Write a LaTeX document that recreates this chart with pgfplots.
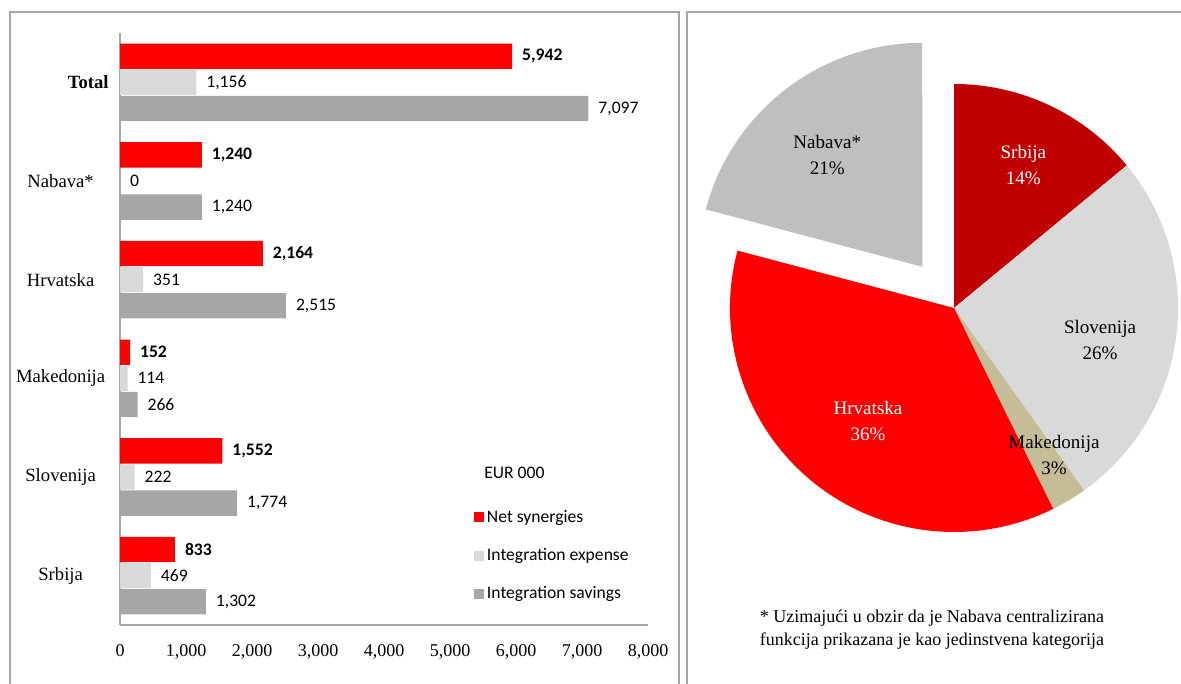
\documentclass[border=0pt]{standalone}
\usepackage{pgfplots}
\pgfplotsset{compat=1.18}
\usepackage{pgfplotstable}
\usepackage{fontspec}
\setmainfont{Liberation Serif}
\newfontfamily\carlito{Carlito}
\definecolor{netred}{HTML}{FF0000}
\definecolor{lgray}{HTML}{D9D9D9}
\definecolor{dgray}{HTML}{A6A6A6}
\definecolor{srb}{HTML}{C00000}
\definecolor{mak}{HTML}{C4BD97}
\definecolor{nab}{HTML}{BFBFBF}
\definecolor{frame}{HTML}{A6A6A6}

% y: 5 = Total (top) ... 0 = Srbija (bottom)
\pgfplotstableread{
y x label
5 5942 5,942
4 1240 1,240
3 2164 2,164
2 152 152
1 1552 1,552
0 833 833
}\netdata
\pgfplotstableread{
y x label
5 1156 1,156
4 0 0
3 351 351
2 114 114
1 222 222
0 469 469
}\expdata
\pgfplotstableread{
y x label
5 7097 7,097
4 1240 1,240
3 2515 2,515
2 266 266
1 1774 1,774
0 1302 1,302
}\savdata

% pie: net synergies by unit
\def\vSrb{833}\def\vSlo{1552}\def\vMak{152}\def\vHrv{2164}\def\vNab{1240}
\pgfmathsetmacro\tot{\vSrb+\vSlo+\vMak+\vHrv+\vNab}
\pgfmathsetmacro\aA{90}
\pgfmathsetmacro\aB{\aA-360*(\vSrb/\tot)}
\pgfmathsetmacro\aC{\aB-360*(\vSlo/\tot)}
\pgfmathsetmacro\aD{\aC-360*(\vMak/\tot)}
\pgfmathsetmacro\aE{\aD-360*(\vHrv/\tot)}
\pgfmathsetmacro\aF{\aE-360*(\vNab/\tot)}
\pgfmathsetmacro\nm{(\aE+\aF)/2}

\begin{document}
\begin{tikzpicture}
\path[use as bounding box] (0,0) rectangle (885.75pt,513pt);
\draw[frame, line width=1pt] (7.5pt,0) -- (7.5pt,504pt) -- (509.25pt,504pt) -- (509.25pt,0);
\draw[frame, line width=1pt] (515.25pt,0) -- (515.25pt,504pt) -- (885.75pt,504pt);

\begin{axis}[
  at={(90pt,44.25pt)}, anchor=south west,
  scale only axis, width=396pt, height=444pt,
  xbar, bar width=19pt,
  xmin=0, xmax=8000, ymin=-0.5, ymax=5.5,
  axis x line=bottom, axis y line=left,
  axis line style={-, draw=frame, line width=1pt},
  xtick={0,1000,...,8000},
  ytick={0,...,5},
  yticklabels={Srbija,Slovenija,Makedonija,Hrvatska,Nabava*,\mbox{}\hfill\textbf{Total}},
  major tick length=0pt,
  /pgf/number format/1000 sep={,},
  /pgf/number format/assume math mode=true,
  xticklabel style={font=\fontsize{13.5}{16}\selectfont, yshift=-11pt},
  yticklabel style={font=\fontsize{14}{16}\selectfont, text width=72pt, align=center, xshift=-5pt},
  point meta=explicit symbolic,
  nodes near coords,
  every node near coord/.append style={font=\carlito\fontsize{13.2}{15}\selectfont, anchor=west, xshift=4pt, text=black},
  legend style={draw=none, fill=none, at={(0.663,0.203)}, anchor=north west,
    font=\carlito\fontsize{13.2}{15}\selectfont, row sep=14pt,
    /tikz/every even column/.append style={column sep=2pt}},
  legend cell align=left,
  legend image code/.code={\fill[#1] (0pt,-3.75pt) rectangle (7.5pt,3.75pt);},
  clip=false,
]
\addplot[fill=netred, draw=none, bar shift=19.6pt, nodes near coords={\textbf{\pgfplotspointmeta}}] table[x=x, y=y, meta=label]{\netdata};
\addplot[fill=lgray, draw=none, bar shift=0pt] table[x=x, y=y, meta=label]{\expdata};
\addplot[fill=dgray, draw=none, bar shift=-19.6pt] table[x=x, y=y, meta=label]{\savdata};
\legend{Net synergies, Integration expense, Integration savings}
\node[anchor=west, font=\carlito\fontsize{13.2}{15}\selectfont, inner sep=0pt] at (rel axis cs:0.6894,0.2568) {EUR 000};
\end{axis}

\begin{axis}[
  at={(715.5pt,282pt)}, anchor=center,
  scale only axis, width=336pt, height=336pt,
  xmin=-1, xmax=1, ymin=-1, ymax=1,
  hide axis, clip=false,
]
\fill[srb] (axis cs:0,0) -- ++(\aB:168pt) arc[start angle=\aB, end angle=\aA, radius=168pt] -- cycle;
\fill[lgray] (axis cs:0,0) -- ++(\aC:168pt) arc[start angle=\aC, end angle=\aB, radius=168pt] -- cycle;
\fill[mak] (axis cs:0,0) -- ++(\aD:168pt) arc[start angle=\aD, end angle=\aC, radius=168pt] -- cycle;
\fill[netred] (axis cs:0,0) -- ++(\aE:168pt) arc[start angle=\aE, end angle=\aD, radius=168pt] -- cycle;
\fill[nab, shift={(\nm:39pt)}] (axis cs:0,0) -- ++(\aF:168pt) arc[start angle=\aF, end angle=\aE, radius=168pt] -- cycle;
\node[align=center, font=\fontsize{14.3}{19.5}\selectfont] at ([shift={(-95pt,115pt)}]axis cs:0,0) {Nabava*\\21\%};
\node[align=center, text=white, font=\fontsize{14.3}{19.5}\selectfont] at ([shift={(52pt,107pt)}]axis cs:0,0) {Srbija\\14\%};
\node[align=center, font=\fontsize{14.3}{19.5}\selectfont] at ([shift={(109.5pt,-24pt)}]axis cs:0,0) {Slovenija\\26\%};
\node[align=center, font=\fontsize{14.3}{19.5}\selectfont] at ([shift={(75pt,-110pt)}]axis cs:0,0) {Makedonija\\3\%};
\node[align=center, text=white, font=\fontsize{14.3}{19.5}\selectfont] at ([shift={(-64.5pt,-85pt)}]axis cs:0,0) {Hrvatska\\36\%};
\end{axis}

\node[align=center, font=\fontsize{13.5}{17.25}\selectfont] at (699pt,40.9pt) {* Uzimajući u obzir da je Nabava centralizirana\\funkcija prikazana je kao jedinstvena kategorija};
\end{tikzpicture}
\end{document}
